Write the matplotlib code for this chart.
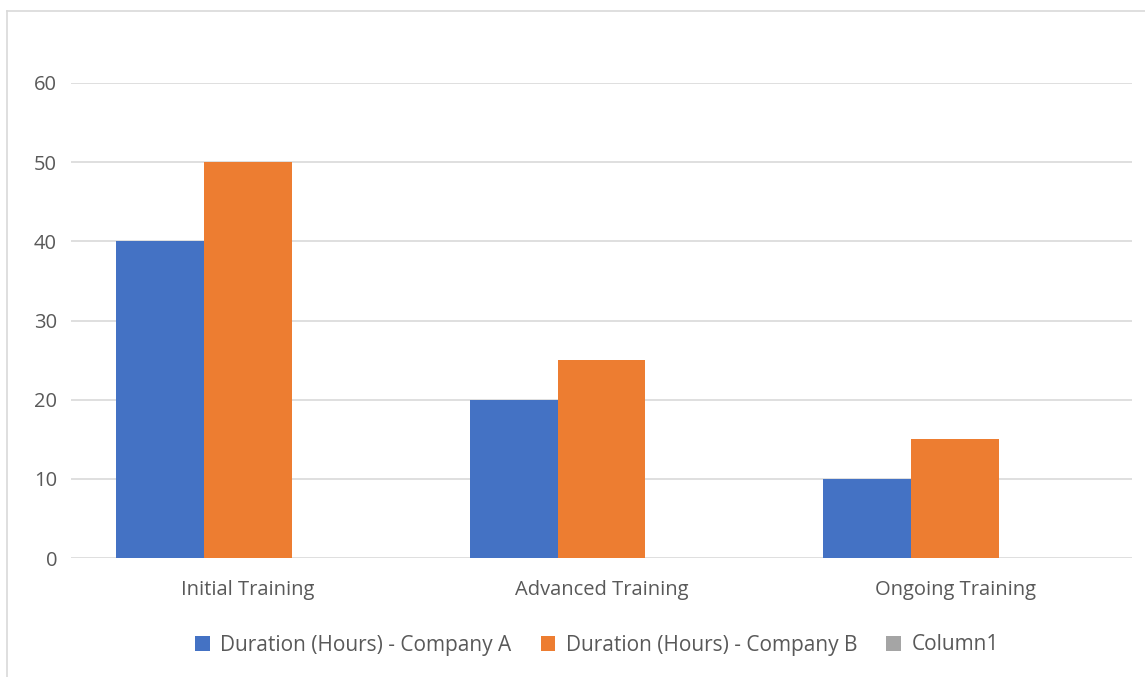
import matplotlib
matplotlib.use("Agg")
import matplotlib.pyplot as plt
import numpy as np
from matplotlib.lines import Line2D
from matplotlib.patches import Patch

categories = ["Initial Training", "Advanced Training", "Ongoing Training"]
series_names = ["Duration (Hours) - Company A", "Duration (Hours) - Company B", "Column1"]
company_a = [40, 20, 10]
company_b = [50, 25, 15]
column1 = [0, 0, 0]
yticks = [0, 10, 20, 30, 40, 50, 60]

colors = ["#4472C4", "#ED7D31", "#A5A5A5"]
text_color = "#595959"
grid_color = "#D9D9D9"

plt.rcParams['font.family'] = ['Open Sans', 'DejaVu Sans']

W, H = 1145, 677
fig = plt.figure(figsize=(W / 100, H / 100), dpi=100)
ax = fig.add_axes([71 / W, (H - 558) / H, (1132 - 71) / W, (558 - 83) / H])

x = np.arange(len(categories))
bw = 0.2487
for i, vals in enumerate([company_a, company_b, column1]):
    ax.bar(x + (i - 1) * bw, vals, width=bw, color=colors[i], linewidth=0, zorder=3)

ax.set_xlim(-0.5, len(categories) - 0.5)
ax.set_ylim(0, 60)
ax.set_yticks(yticks)
ax.set_xticks(x)
ax.set_xticklabels(categories)
ax.grid(axis='y', color=grid_color, linewidth=1.2, zorder=0)
for s in ax.spines.values():
    s.set_visible(False)
ax.tick_params(axis='both', length=0, labelsize=14.5, labelcolor=text_color)
ax.tick_params(axis='y', pad=10)
ax.tick_params(axis='x', pad=15.5)

handles = [Patch(facecolor=c, edgecolor='none') for c in colors]
fig.legend(handles, series_names, loc='center', bbox_to_anchor=(597 / W, (H - 645) / H),
           ncol=3, frameon=False, fontsize=15, labelcolor=text_color,
           handlelength=0.7, handleheight=0.7, handletextpad=0.5, columnspacing=1.4)

# chart border
fig.add_artist(Line2D([7 / W, 7 / W], [0, (H - 11) / H], color="#D9D9D9", linewidth=1.2, transform=fig.transFigure))
fig.add_artist(Line2D([7 / W, 1], [(H - 11) / H, (H - 11) / H], color="#D9D9D9", linewidth=1.2, transform=fig.transFigure))

fig.savefig("out.png", dpi=100)
